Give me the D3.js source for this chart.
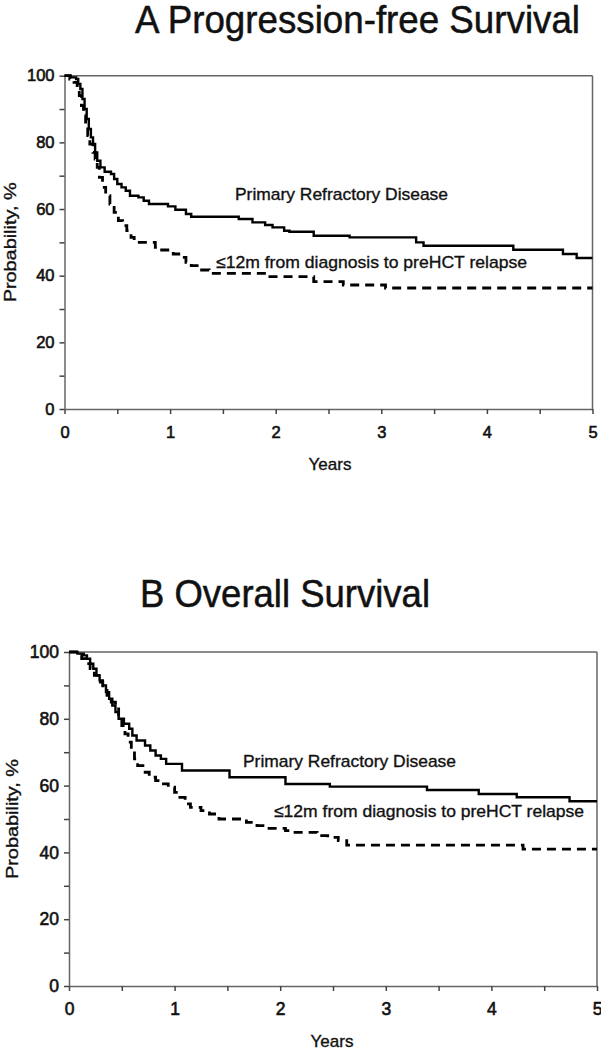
<!DOCTYPE html>
<html>
<head>
<meta charset="utf-8">
<script src="https://cdn.jsdelivr.net/npm/d3@7/dist/d3.min.js"></script>
<style>
  html, body { margin: 0; padding: 0; background: #fff; }
  svg { display: block; font-family: "Liberation Sans", Arial, sans-serif; }
</style>
</head>
<body>
<svg id="chart" width="601" height="1050"></svg>
<script>
// ---------------- data ----------------
const panelTitles = ["A Progression-free Survival", "B Overall Survival"];
const seriesNames = ["Primary Refractory Disease", "\u226412m from diagnosis to preHCT relapse"];
const xTickValues = [0, 0.5, 1, 1.5, 2, 2.5, 3, 3.5, 4, 4.5, 5];
const xTickLabels = ["0", "", "1", "", "2", "", "3", "", "4", "", "5"];
const yTickValues = [0, 10, 20, 30, 40, 50, 60, 70, 80, 90, 100];
const yTickLabels = ["0", "", "20", "", "40", "", "60", "", "80", "", "100"];
const xAxisTitle = "Years";
const yAxisTitle = "Probability, %";
const maxYears = 5;

// [years, survival %] at each step
const pfsPrimary = [[0,100],[0.06,99.5],[0.11,99],[0.13,97.5],[0.15,96],[0.17,93],[0.19,90],[0.21,87],[0.23,84],
  [0.25,81.5],[0.27,79.5],[0.29,77],[0.31,74.5],[0.34,72.5],[0.38,71.2],[0.44,70.5],[0.47,69],[0.50,67.5],
  [0.54,66.5],[0.58,65.5],[0.62,64],[0.70,63.5],[0.75,62.5],[0.80,61.5],[0.98,60.8],[1.05,59.8],[1.15,58.5],
  [1.2,57.7],[1.65,57],[1.78,56],[1.9,55.2],[1.97,54.5],[2.08,53.5],[2.13,53.2],[2.36,52],[2.7,51.5],
  [3.33,50],[3.4,49],[4.25,47.8],[4.72,46.5],[4.85,45.3]];
const pfsEarly = [[0,100],[0.05,99],[0.09,98],[0.12,96],[0.14,94],[0.16,91],[0.18,88],[0.20,85],[0.22,82],
  [0.24,79.5],[0.27,77],[0.29,75],[0.31,72.5],[0.33,69.5],[0.36,66.5],[0.39,64],[0.43,61.5],[0.47,59],
  [0.51,56.5],[0.55,55],[0.59,53.5],[0.63,51.5],[0.66,50],[0.86,48.5],[0.92,47.7],[1.03,46.5],[1.1,45.5],
  [1.15,44],[1.2,43],[1.27,41.7],[1.37,40.7],[1.93,39.7],[2.36,38.2],[2.64,37.2],[3.04,36.3]];
const osPrimary = [[0,100],[0.08,99.5],[0.14,99],[0.17,98],[0.2,96.5],[0.23,95],[0.26,93],[0.29,91.5],
  [0.32,90],[0.35,88],[0.38,86],[0.41,84],[0.44,82],[0.47,80],[0.52,78.5],[0.57,77],[0.6,75],[0.64,73.5],
  [0.72,72],[0.77,70.5],[0.82,69],[0.87,68],[0.92,66.5],[1.07,64.5],[1.52,62.5],[2.05,60.5],[2.47,59.7],
  [3.39,58.7],[3.88,57.5],[4.24,56.5],[4.74,55.3]];
const osEarly = [[0,100],[0.07,99],[0.12,98],[0.16,96.5],[0.2,95],[0.24,93],[0.28,91],[0.32,89],[0.36,87],
  [0.40,85],[0.44,83],[0.47,80.5],[0.50,78],[0.53,75.5],[0.56,73],[0.59,70.5],[0.62,68],[0.65,66],[0.70,64],
  [0.76,62.5],[0.82,61.5],[0.88,60.5],[0.94,59.5],[1.0,58],[1.05,56.5],[1.1,54.5],[1.15,53.5],[1.25,52.5],
  [1.33,51.5],[1.42,50],[1.68,49],[1.78,48],[1.85,47.2],[2.05,46.5],[2.1,46],[2.35,45],[2.45,44.5],
  [2.55,43.5],[2.63,42.2],[4.3,41]];

// ---------------- layout ----------------
const panels = [
  { title: panelTitles[0], series: [pfsPrimary, pfsEarly],
    x0: 64.5, x1: 592.5, yTop: 75.7, yBot: 409, tickFont: 16.5,
    titleX: 135, titleY: 33, titleLen: 445,
    labels: [{x: 235, y: 200, len: 213}, {x: 216, y: 268, len: 311}],
    ylabX: 16, yearsX: 330, yearsY: 470 },
  { title: panelTitles[1], series: [osPrimary, osEarly],
    x0: 69, x1: 597, yTop: 652, yBot: 986, tickFont: 17.5,
    titleX: 140, titleY: 607, titleLen: 290,
    labels: [{x: 243, y: 767, len: 213}, {x: 274, y: 817, len: 310}],
    ylabX: 17.5, yearsX: 332, yearsY: 1047 }
];

const svg = d3.select("#chart");
const axisColor = "#666";

panels.forEach(p => {
  const x = d3.scaleLinear().domain([0, maxYears]).range([p.x0, p.x1]);
  const y = d3.scaleLinear().domain([0, 100]).range([p.yBot, p.yTop]);
  const g = svg.append("g");

  // title
  g.append("text").attr("x", p.titleX).attr("y", p.titleY)
    .attr("font-size", 38).attr("fill", "#111").attr("stroke", "#111").attr("stroke-width", 0.5)
    .attr("textLength", p.titleLen).attr("lengthAdjust", "spacingAndGlyphs")
    .text(p.title);

  // frame top/right
  g.append("line").attr("x1", x(0)).attr("x2", x(maxYears)).attr("y1", y(100)).attr("y2", y(100))
    .attr("stroke", axisColor).attr("stroke-width", 1.5);
  g.append("line").attr("x1", x(maxYears)).attr("x2", x(maxYears)).attr("y1", y(100)).attr("y2", y(0))
    .attr("stroke", axisColor).attr("stroke-width", 1.5);

  // axes
  const xAxis = d3.axisBottom(x).tickValues(xTickValues)
    .tickFormat((d, i) => xTickLabels[i]).tickSize(5).tickPadding(12).tickSizeOuter(0);
  const yAxis = d3.axisLeft(y).tickValues(yTickValues)
    .tickFormat((d, i) => yTickLabels[i]).tickSize(5).tickPadding(5).tickSizeOuter(0);
  const gx = g.append("g").attr("transform", `translate(0,${y(0)})`).call(xAxis);
  const gy = g.append("g").attr("transform", `translate(${x(0)},0)`).call(yAxis);
  [gx, gy].forEach(a => {
    a.select(".domain").attr("stroke", axisColor).attr("stroke-width", 1.5);
    a.selectAll(".tick line").attr("stroke", "#444").attr("stroke-width", 1.5);
    a.selectAll(".tick text").attr("font-size", p.tickFont).attr("fill", "#111")
      .attr("font-family", "'Liberation Sans', Arial, sans-serif")
      .attr("stroke", "#111").attr("stroke-width", 0.6);
  });

  // axis titles
  g.append("text").attr("x", p.yearsX).attr("y", p.yearsY).attr("text-anchor", "middle")
    .attr("font-size", 17).attr("fill", "#111").attr("stroke", "#111").attr("stroke-width", 0.35)
    .text(xAxisTitle);
  g.append("text")
    .attr("transform", `translate(${p.ylabX},${(y(0) + y(100)) / 2}) rotate(-90)`)
    .attr("text-anchor", "middle").attr("font-size", 17).attr("fill", "#111")
    .attr("stroke", "#111").attr("stroke-width", 0.35)
    .attr("textLength", 120).attr("lengthAdjust", "spacingAndGlyphs")
    .text(yAxisTitle);

  // curves
  const line = d3.line().x(d => x(d[0])).y(d => y(d[1])).curve(d3.curveStepAfter);
  p.series.forEach((s, i) => {
    const pts = s.concat([[maxYears, s[s.length - 1][1]]]);
    g.append("path").datum(pts).attr("d", line)
      .attr("fill", "none").attr("stroke", "#000")
      .attr("stroke-width", i === 0 ? 2.4 : 2.8)
      .attr("stroke-dasharray", i === 0 ? null : "9,6");
  });

  // series labels
  p.labels.forEach((l, i) => {
    g.append("text").attr("x", l.x).attr("y", l.y).attr("font-size", 17).attr("fill", "#111")
      .attr("stroke", "#111").attr("stroke-width", 0.35)
      .attr("textLength", l.len).attr("lengthAdjust", "spacingAndGlyphs")
      .text(seriesNames[i]);
  });
});
</script>
</body>
</html>
